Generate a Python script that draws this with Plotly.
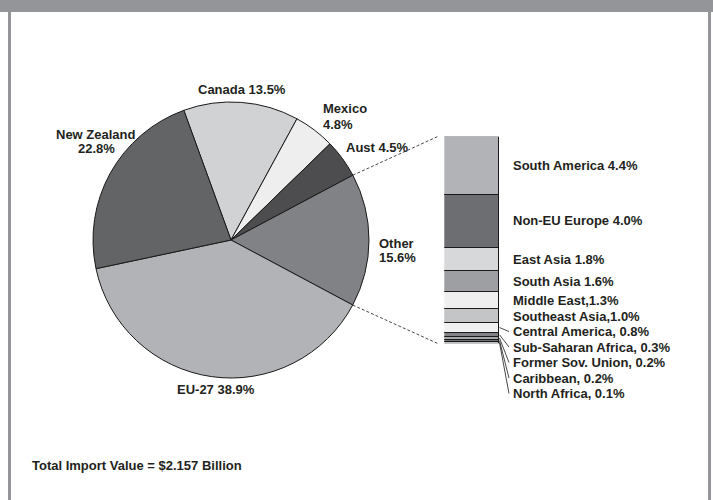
import math
import plotly.graph_objects as go

# ---------------- data ----------------
pie_labels = ["Canada", "Mexico", "Aust", "Other", "EU-27", "New Zealand"]
pie_values = [13.5, 4.8, 4.5, 15.6, 38.9, 22.8]
pie_two_line = [False, True, False, True, False, True]

other_labels = ["South America", "Non-EU Europe", "East Asia", "South Asia",
                "Middle East", "Southeast Asia", "Central America",
                "Sub-Saharan Africa", "Former Sov. Union", "Caribbean", "North Africa"]
other_values = [4.4, 4.0, 1.8, 1.6, 1.3, 1.0, 0.8, 0.3, 0.2, 0.2, 0.1]
other_text = ["South America 4.4%", "Non-EU Europe 4.0%", "East Asia 1.8%",
              "South Asia 1.6%", "Middle East,1.3%", "Southeast Asia,1.0%",
              "Central America, 0.8%", "Sub-Saharan Africa, 0.3%",
              "Former Sov. Union, 0.2%", "Caribbean, 0.2%", "North Africa, 0.1%"]

footer_text = "Total Import Value = $2.157 Billion"

# ---------------- styles / layout constants ----------------
W, H = 713, 500
pie_colors = ["#d1d2d4", "#eeeeef", "#4d4d4f", "#808285", "#b1b3b6", "#636466"]
other_colors = ["#b1b3b6", "#6d6e71", "#d7d8da", "#9d9fa2", "#efeff0", "#c4c5c7",
                "#f1f1f2", "#808285", "#a7a9ac", "#6d6e71", "#bcbec0"]
FRAME = "#939598"
TXT = "#231f20"
FONT = dict(family="Liberation Sans, Arial, Helvetica, sans-serif", size=13,
            color=TXT, weight="bold")

PIE_CX, PIE_CY, PIE_R = 231, 240, 138          # pixels
PIE_START = -20                                 # degrees, clockwise from 12 o'clock
BAR_X0, BAR_X1 = 444.3, 499.0                   # pixels
BAR_Y0, BAR_Y1 = 136.7, 343.3                   # pixels (top, bottom)
LABEL_X = 511                                   # px, left of bar labels
LEADER_X = 509                                  # px, end of leader lines
LABEL_GAP_PX = 15.5
DASH_GAP = 7                                    # px between dashed connector and bar

# pie label placement (pixel centres), one entry per text line
pie_label_pos = [
    [(241.7, 89.5, "center")],
    [(320.7, 108.5, "left"), (320.7, 124.8, "left")],
    [(344.0, 147.0, "left")],
    [(377.0, 243.8, "left"), (377.0, 257.3, "left")],
    [(216.3, 389.5, "center")],
    [(96.0, 134.5, "center"), (96.0, 148.5, "center")],
]


def px_x(x):
    return x / W


def px_y(y):
    return 1 - y / H


fig = go.Figure()

# ---------------- pie ----------------
fig.add_trace(go.Pie(
    labels=pie_labels, values=pie_values, sort=False, direction="clockwise",
    rotation=PIE_START, textinfo="none", hoverinfo="label+percent",
    marker=dict(colors=pie_colors, line=dict(color="#1a1a1a", width=1)),
    domain=dict(x=[px_x(PIE_CX - PIE_R), px_x(PIE_CX + PIE_R)],
                y=[px_y(PIE_CY + PIE_R), px_y(PIE_CY - PIE_R)]),
    showlegend=False,
))

# ---------------- stacked bar for "Other" ----------------
for lab, val, col in zip(other_labels, other_values, other_colors):
    fig.add_trace(go.Bar(
        x=[0.5], y=[val], width=[1], name=lab, xaxis="x2", yaxis="y2",
        marker=dict(color=col, line=dict(color="#1a1a1a", width=1)),
        showlegend=False, hovertemplate=lab + ": %{y}%<extra></extra>",
    ))

bar_total = sum(other_values)
bar_px_per_unit = (BAR_Y1 - BAR_Y0) / bar_total


def bar_y_paper(v):
    return px_y(BAR_Y0 + v * bar_px_per_unit)


annotations = []
shapes = []

# bar labels, spread downward to avoid overlap
gap_units = LABEL_GAP_PX / bar_px_per_unit
cum = 0.0
prev = -1e9
for txt, val in zip(other_text, other_values):
    mid = cum + val / 2
    cum += val
    ly = max(mid, prev + gap_units)
    prev = ly
    annotations.append(dict(
        x=px_x(LABEL_X), y=bar_y_paper(ly), xref="paper", yref="paper",
        text=txt, showarrow=False, xanchor="left", yanchor="middle", font=FONT,
    ))
    if ly - mid > 0.1:
        shapes.append(dict(
            type="line", xref="paper", yref="paper",
            x0=px_x(BAR_X1 + 0.5), y0=bar_y_paper(mid),
            x1=px_x(LEADER_X), y1=bar_y_paper(ly),
            line=dict(color="#1a1a1a", width=0.8),
        ))

# pie labels
for lab, val, two, pos in zip(pie_labels, pie_values, pie_two_line, pie_label_pos):
    lines = [lab, f"{val}%"] if two else [f"{lab} {val}%"]
    for line, (x, y, anc) in zip(lines, pos):
        annotations.append(dict(
            x=px_x(x), y=px_y(y), xref="paper", yref="paper", text=line,
            showarrow=False, xanchor=anc, yanchor="middle", font=FONT,
        ))

# footer
annotations.append(dict(
    x=px_x(30), y=px_y(465), xref="paper", yref="paper", text=footer_text,
    showarrow=False, xanchor="left", yanchor="middle", font=FONT,
))

# dashed connectors from the "Other" slice edges to the bar
total = sum(pie_values)
oi = pie_labels.index("Other")
a_start = PIE_START + sum(pie_values[:oi]) / total * 360
a_end = PIE_START + sum(pie_values[:oi + 1]) / total * 360
for ang, by in ((a_start, BAR_Y0), (a_end, BAR_Y1)):
    r = math.radians(ang)
    ex = PIE_CX + PIE_R * math.sin(r)
    ey = PIE_CY - PIE_R * math.cos(r)
    shapes.append(dict(
        type="line", xref="paper", yref="paper",
        x0=px_x(ex), y0=px_y(ey), x1=px_x(BAR_X0 - DASH_GAP), y1=px_y(by),
        line=dict(color="#333333", width=0.9, dash="3px,2px"),
    ))

# frame
shapes += [
    dict(type="rect", xref="paper", yref="paper", x0=0, x1=1, y0=px_y(12), y1=1,
         fillcolor=FRAME, line=dict(width=0), layer="below"),
    dict(type="rect", xref="paper", yref="paper", x0=px_x(8), x1=px_x(11), y0=0, y1=px_y(12),
         fillcolor=FRAME, line=dict(width=0), layer="below"),
    dict(type="rect", xref="paper", yref="paper", x0=px_x(708), x1=px_x(711), y0=0, y1=px_y(12),
         fillcolor=FRAME, line=dict(width=0), layer="below"),
]

fig.update_layout(
    width=W, height=H, margin=dict(l=0, r=0, t=0, b=0),
    paper_bgcolor="white", plot_bgcolor="rgba(0,0,0,0)",
    barmode="stack", bargap=0,
    xaxis=dict(visible=False),
    yaxis=dict(visible=False),
    xaxis2=dict(domain=[px_x(BAR_X0), px_x(BAR_X1)], range=[0, 1], visible=False,
                anchor="y2", fixedrange=True),
    yaxis2=dict(domain=[px_y(BAR_Y1), px_y(BAR_Y0)], range=[bar_total, 0], visible=False,
                anchor="x2", fixedrange=True),
    annotations=annotations,
    shapes=shapes,
    font=FONT,
)

fig.write_html(
    "out.html",
    config={"displayModeBar": False},
    post_script="document.body.style.margin='0';document.body.style.overflow='hidden';",
)
